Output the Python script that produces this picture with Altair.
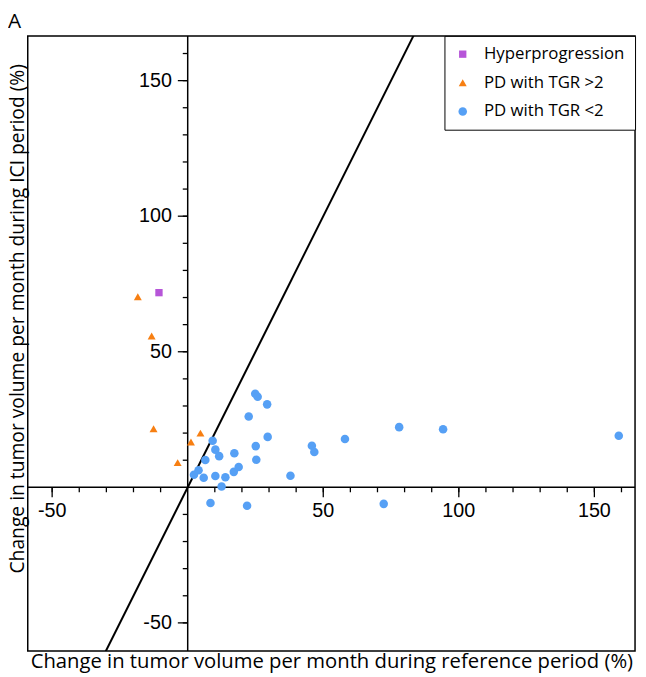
import altair as alt
import pandas as pd

# ---- data ----
categories = ["Hyperprogression", "PD with TGR >2", "PD with TGR <2"]
cat_colors = ["#b655d8", "#f77f12", "#56a0f5"]
cat_shapes = ["square", "triangle-up", "circle"]

hyper_x = [-10.6]
hyper_y = [71.8]

tgr_gt2_x = [-18.4, -13.3, -12.6, -3.7, 1.2, 4.7]
tgr_gt2_y = [70.3, 55.8, 21.6, 9.1, 16.7, 20.0]

tgr_lt2_x = [9.2, 10.2, 11.6, 6.5, 4.0, 2.3, 5.9, 10.2, 13.9, 12.5, 17.0, 18.8,
             17.2, 22.5, 24.9, 25.8, 29.3, 29.5, 25.1, 25.3, 37.9, 8.4, 21.9,
             45.8, 46.7, 58.0, 72.3, 78.0, 94.2, 159.0]
tgr_lt2_y = [17.2, 13.9, 11.5, 10.1, 6.3, 4.6, 3.5, 4.2, 3.7, 0.3, 5.7, 7.5,
             12.6, 26.1, 34.5, 33.4, 30.6, 18.6, 15.2, 10.2, 4.3, -5.8, -6.8,
             15.3, 13.0, 17.8, -6.1, 22.2, 21.4, 19.0]

# reference line TGR = 2 (y = 2x)
line_x = [-40, 90]
line_y = [-80, 180]

x_domain = [-59, 165]
y_domain = [-60.4, 166.5]

x_minor_ticks = [-50, -40, -30, -20, -10, 10, 20, 30, 40, 50, 60, 70, 80, 90,
                 100, 110, 120, 130, 140, 150, 160]
x_major_ticks = [-50, 50, 100, 150]
x_tick_labels = ["-50", "50", "100", "150"]

y_minor_ticks = [-50, -40, -30, -20, -10, 10, 20, 30, 40, 50, 60, 70, 80, 90,
                 100, 110, 120, 130, 140, 150, 160]
y_major_ticks = [-50, 50, 100, 150]
y_tick_labels = ["-50", "50", "100", "150"]

panel_label = ["A"]
x_title = "Change in tumor volume per month during reference period (%)"
y_title = "Change in tumor volume per month during ICI period (%)"

# ---- tables ----
rows = []
for cat, xs_, ys_ in zip(categories, [hyper_x, tgr_gt2_x, tgr_lt2_x],
                         [hyper_y, tgr_gt2_y, tgr_lt2_y]):
    for a, b in zip(xs_, ys_):
        rows.append({"x": a, "y": b, "group": cat})
pts = pd.DataFrame(rows)
line_df = pd.DataFrame({"x": line_x, "y": line_y})
zero_df = pd.DataFrame({"z": [0]})
xminor_df = pd.DataFrame({"v": x_minor_ticks, "z": 0})
xmajor_df = pd.DataFrame({"v": x_major_ticks, "z": 0, "lab": x_tick_labels})
yminor_df = pd.DataFrame({"v": y_minor_ticks, "z": 0})
ymajor_df = pd.DataFrame({"v": y_major_ticks, "z": 0, "lab": y_tick_labels})
label_df = pd.DataFrame({"t": panel_label})

W, H = 615, 623
xs = alt.Scale(domain=x_domain, nice=False, zero=False)
ys = alt.Scale(domain=y_domain, nice=False, zero=False)

TITLE_FONT = "Open Sans"
TICK_FONT = "Liberation Sans"

x_axis = alt.Axis(title=x_title, labels=False, ticks=False, domain=False, grid=False,
                  titleFont=TITLE_FONT, titleFontSize=20.5, titleFontWeight="normal",
                  titleColor="black", titlePadding=1, minExtent=0, maxExtent=0)
y_axis = alt.Axis(title=y_title, labels=False, ticks=False, domain=False, grid=False,
                  titleFont=TITLE_FONT, titleFontSize=19.5, titleFontWeight="normal",
                  titleColor="black", titleX=0, titleY=286, titleAngle=270,
                  titleBaseline="bottom", titleAlign="center",
                  minExtent=0, maxExtent=0)


def X(field):
    return alt.X(field, scale=xs, axis=x_axis)


def Y(field):
    return alt.Y(field, scale=ys, axis=y_axis)


legend = alt.Legend(title=None, orient="top-right", offset=0, padding=10,
                    strokeColor="black", fillColor="white",
                    labelFont=TITLE_FONT, labelFontSize=17, labelColor="black",
                    labelOffset=13, rowPadding=11, symbolSize=55,
                    symbolStrokeWidth=0, labelLimit=300)

axis_x_line = alt.Chart(zero_df).mark_rule(color="black", strokeWidth=1.5).encode(
    y=Y("z:Q"))
axis_y_line = alt.Chart(zero_df).mark_rule(color="black", strokeWidth=1.5).encode(
    x=X("z:Q"))

x_minor = alt.Chart(xminor_df).mark_rule(color="black", strokeWidth=1.3, y2Offset=5).encode(
    x=X("v:Q"), y=Y("z:Q"), y2="z:Q")
x_major = alt.Chart(xmajor_df).mark_rule(color="black", strokeWidth=1.3, y2Offset=10).encode(
    x=X("v:Q"), y=Y("z:Q"), y2="z:Q")
x_labels = alt.Chart(xmajor_df).mark_text(font=TICK_FONT, fontSize=20, color="black",
                                           baseline="top", align="center", dy=14).encode(
    x=X("v:Q"), y=Y("z:Q"), text="lab:N")

y_minor = alt.Chart(yminor_df).mark_rule(color="black", strokeWidth=1.3, x2Offset=-5).encode(
    y=Y("v:Q"), x=X("z:Q"), x2="z:Q")
y_major = alt.Chart(ymajor_df).mark_rule(color="black", strokeWidth=1.3, x2Offset=-10).encode(
    y=Y("v:Q"), x=X("z:Q"), x2="z:Q")
y_labels = alt.Chart(ymajor_df).mark_text(font=TICK_FONT, fontSize=20, color="black",
                                           baseline="middle", align="right", dx=-16).encode(
    y=Y("v:Q"), x=X("z:Q"), text="lab:N")

ref_line = alt.Chart(line_df).mark_line(color="black", strokeWidth=2, clip=True).encode(
    x=X("x:Q"), y=Y("y:Q"))

points = alt.Chart(pts).mark_point(filled=True, opacity=1, strokeWidth=0).encode(
    x=X("x:Q"),
    y=Y("y:Q"),
    color=alt.Color("group:N", scale=alt.Scale(domain=categories, range=cat_colors),
                    legend=legend, sort=categories),
    shape=alt.Shape("group:N", scale=alt.Scale(domain=categories, range=cat_shapes),
                    legend=legend, sort=categories),
    size=alt.Size("group:N", scale=alt.Scale(domain=categories, range=[55, 75, 55]),
                  legend=None),
)

panel = alt.Chart(label_df).mark_text(font=TITLE_FONT, fontSize=21, color="black",
                                      align="left", baseline="alphabetic").encode(
    x=alt.value(-20), y=alt.value(-8), text="t:N")

chart = alt.layer(
    axis_x_line, axis_y_line, x_minor, x_major, y_minor, y_major,
    x_labels, y_labels, ref_line, points, panel
).properties(
    width=W, height=H,
    padding={"left": 20, "top": 24, "right": 3, "bottom": 22},
    autosize=alt.AutoSizeParams(type="none"),
).configure(background="white").configure_view(stroke="black", strokeWidth=1.5)

chart.save("out.html", embed_options={"renderer": "svg", "actions": False})
